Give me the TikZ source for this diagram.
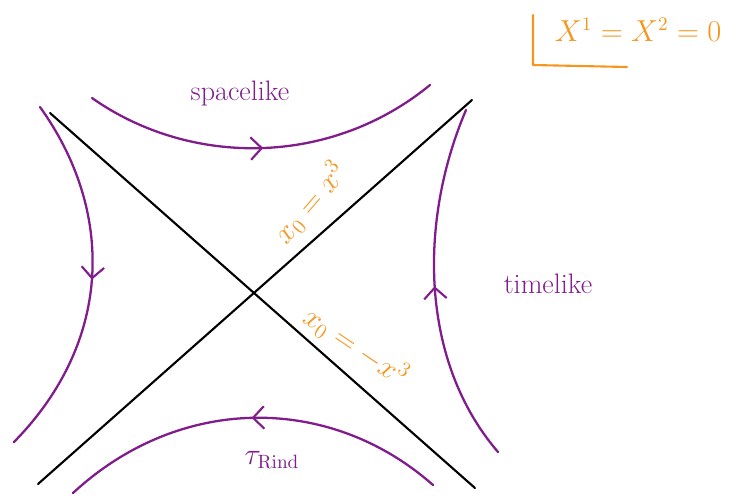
\documentclass[tikz,border=0pt]{standalone}
\usetikzlibrary{arrows.meta,decorations.markings}

\definecolor{worldline}{RGB}{128,28,140}
\definecolor{cone}{RGB}{245,150,30}

\tikzset{
  orbit/.style={worldline,line width=1.3pt,postaction={decorate},
    decoration={markings,mark=at position 0.5 with {\arrow{Straight Barb[length=2.2mm,width=4.5mm,line width=1.2pt]}}}},
  lightray/.style={black,line width=1.2pt},
  purplelabel/.style={worldline,font=\fontsize{16}{19}\selectfont},
  orangelabel/.style={cone,font=\fontsize{18}{22}\selectfont},
}

\begin{document}
\begin{tikzpicture}[x=0.02cm,y=-0.02cm,line cap=round,line join=round]
\useasboundingbox (0,0) rectangle (731,495);

% light cone
\coordinate (NW) at (50,113);
\coordinate (SE) at (475,488);
\coordinate (SW) at (38,484);
\coordinate (NE) at (472,100);
\draw[lightray] (NW) -- (SE);
\draw[lightray] (SW) -- (NE);

% hyperbolae
\draw[orbit] (92,98) .. controls (190,167) and (330,167) .. (430,85);
\draw[orbit] (433,485) .. controls (330,394) and (180,394) .. (73,493);
\draw[orbit] (40,107) .. controls (114,210) and (114,340) .. (14,442);
\draw[orbit] (498,452) .. controls (419,360) and (419,220) .. (466,110);

% labels
\node[purplelabel] (space) at (240,93) {spacelike};
\node[purplelabel] (time) at (548,284) {timelike};
\node[purplelabel] (tau) at (272,460) {$\tau_{\mathrm{Rind}}$};
\node[orangelabel,rotate=49] (plus) at (310,203) {$x_0 = x^3$};
\node[orangelabel,rotate=-34] (minus) at (356,346) {$x_0 = -x^3$};

% gauge box
\coordinate (BT) at (533,15);
\coordinate (BC) at (533,65);
\coordinate (BR) at (627,67);
\draw[cone,line width=1.2pt] (BT) -- (BC) -- (BR);
\node[cone,font=\fontsize{16}{19}\selectfont] (gauge) at (638,30) {$X^1 = X^2 = 0$};

\end{tikzpicture}
\end{document}
